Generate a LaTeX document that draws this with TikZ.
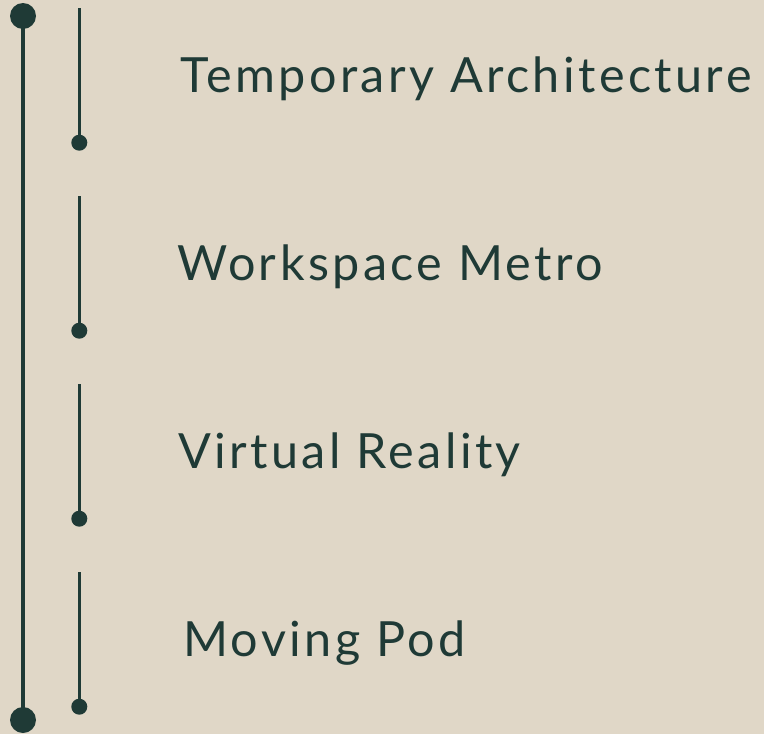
\documentclass[tikz,border=0pt]{standalone}
\usepackage{fontspec}
\newfontfamily\labfont[LetterSpace=7]{Lato}
\definecolor{bg}{HTML}{E0D7C7}
\definecolor{ink}{HTML}{1F3A36}
\begin{document}
\begin{tikzpicture}[x=1pt,y=-1pt,
  mainline/.style={draw=ink,line width=4pt},
  subline/.style={draw=ink,line width=3.6pt},
  bigdot/.style={circle,fill=ink,inner sep=0pt,minimum size=26pt},
  smalldot/.style={circle,fill=ink,inner sep=0pt,minimum size=16pt},
  lab/.style={anchor=base west,inner sep=0pt,text=ink,font=\labfont\fontsize{48.5}{58}\selectfont}]
\fill[bg] (0,0) rectangle (764,734);
\useasboundingbox (0,0) rectangle (764,734);
\node[bigdot] (top) at (23,16) {};
\node[bigdot] (bot) at (23,720) {};
\draw[mainline] (top.center) -- (bot.center);
\foreach \i/\t/\x in {0/Temporary Architecture/180,1/Workspace Metro/177,2/Virtual Reality/178,3/Moving Pod/183}{
  \coordinate (s\i) at (79.3,8+188*\i);
  \node[smalldot] (d\i) at (79.3,142.7+188*\i) {};
  \draw[subline] (s\i) -- (d\i.center);
  \node[lab] (t\i) at (\x,92.3+188*\i) {\t};
}
\end{tikzpicture}
\end{document}
